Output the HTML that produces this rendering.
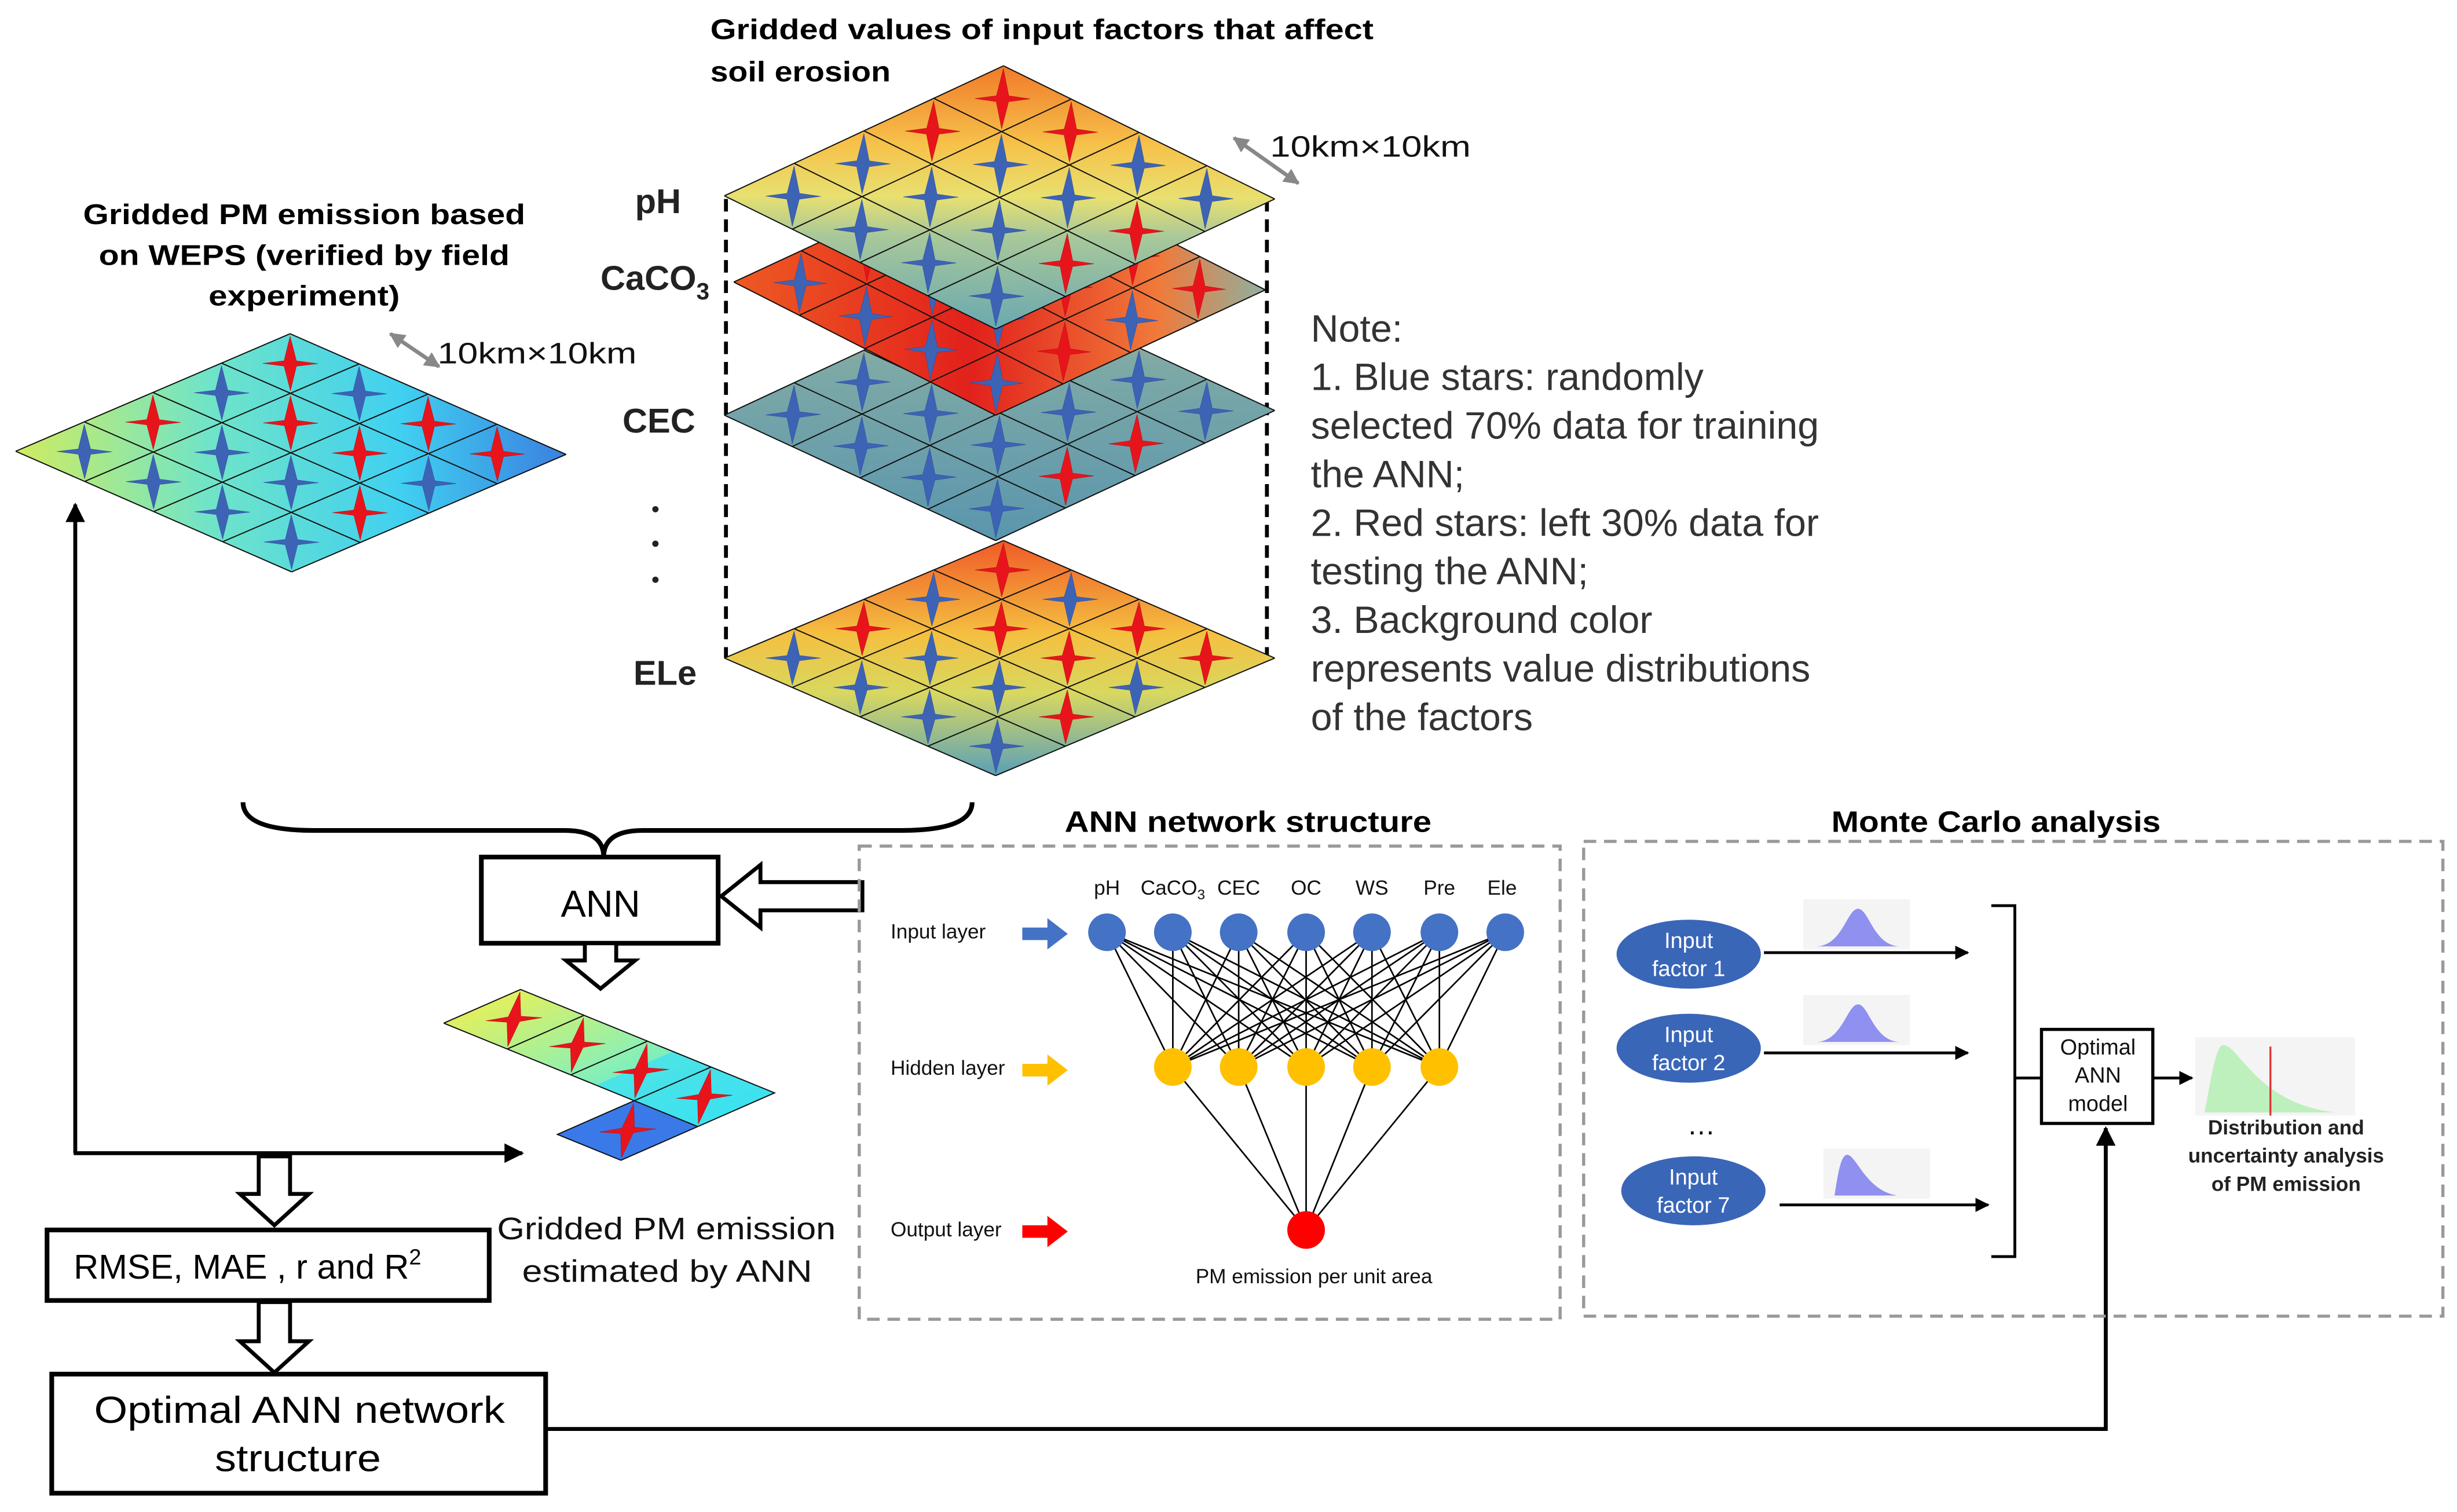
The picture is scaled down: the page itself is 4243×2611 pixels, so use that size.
<!DOCTYPE html>
<html><head><meta charset="utf-8"><style>html,body{margin:0;padding:0;background:#fff}svg{display:block}</style></head><body>
<svg xmlns="http://www.w3.org/2000/svg" width="4243" height="2611" viewBox="0 0 1567 965" preserveAspectRatio="none" font-family="Liberation Sans, sans-serif">
<defs>
<marker id="ah" viewBox="0 0 10 10" refX="9" refY="5" markerWidth="5" markerHeight="5" orient="auto"><path d="M0,0L10,5L0,10z" fill="#000"/></marker>
<marker id="ahg" viewBox="0 0 10 10" refX="9" refY="5" markerWidth="4" markerHeight="4" orient="auto-start-reverse"><path d="M0,0L10,5L0,10z" fill="#888"/></marker>
<polygon id="sb" points="0.96,0.04 0.59,0.5 0.7,0.7 0.5,0.59 0.04,0.96 0.41,0.5 0.3,0.3 0.5,0.41" fill="#3d63b5" stroke="#2a4590" stroke-width="0.5" vector-effect="non-scaling-stroke"/>
<polygon id="sr" points="0.96,0.04 0.59,0.5 0.7,0.7 0.5,0.59 0.04,0.96 0.41,0.5 0.3,0.3 0.5,0.41" fill="#e8141c" stroke="#a00a0a" stroke-width="0.5" vector-effect="non-scaling-stroke"/>
<path id="gl" d="M0,0H4M0,1H4M0,2H4M0,3H4M0,4H4M0,0V4M1,0V4M2,0V4M3,0V4M4,0V4" fill="none" stroke="#111" stroke-width="2" vector-effect="non-scaling-stroke"/>
<g id="p1">
<use href="#sb" x="0" y="0"/><use href="#sb" x="0" y="1"/><use href="#sb" x="0" y="2"/><use href="#sb" x="0" y="3"/>
<use href="#sb" x="1" y="0"/><use href="#sb" x="1" y="1"/><use href="#sb" x="1" y="2"/><use href="#sr" x="1" y="3"/>
<use href="#sr" x="2" y="0"/><use href="#sb" x="2" y="1"/><use href="#sb" x="2" y="2"/><use href="#sr" x="2" y="3"/>
<use href="#sr" x="3" y="0"/><use href="#sr" x="3" y="1"/><use href="#sb" x="3" y="2"/><use href="#sb" x="3" y="3"/>
</g>
<g id="p2">
<use href="#sb" x="0" y="0"/><use href="#sb" x="0" y="1"/><use href="#sb" x="0" y="2"/><use href="#sb" x="0" y="3"/>
<use href="#sr" x="1" y="0"/><use href="#sb" x="1" y="1"/><use href="#sb" x="1" y="2"/><use href="#sr" x="1" y="3"/>
<use href="#sb" x="2" y="0"/><use href="#sr" x="2" y="1"/><use href="#sr" x="2" y="2"/><use href="#sb" x="2" y="3"/>
<use href="#sr" x="3" y="0"/><use href="#sb" x="3" y="1"/><use href="#sr" x="3" y="2"/><use href="#sr" x="3" y="3"/>
</g>
<linearGradient id="gph" x1="1" y1="0" x2="0" y2="1"><stop offset="0" stop-color="#f07a2a"/><stop offset="0.3" stop-color="#f6c24a"/><stop offset="0.5" stop-color="#e8e070"/><stop offset="0.65" stop-color="#a8c89a"/><stop offset="1" stop-color="#6aa8b0"/></linearGradient>
<linearGradient id="gca" x1="0" y1="0" x2="1" y2="1"><stop offset="0" stop-color="#ee5a24"/><stop offset="0.45" stop-color="#e2211c"/><stop offset="0.8" stop-color="#f07a3a"/><stop offset="1" stop-color="#8fb0a0"/></linearGradient>
<linearGradient id="gce" x1="1" y1="0" x2="0" y2="1"><stop offset="0" stop-color="#e8b050"/><stop offset="0.3" stop-color="#7ea9a6"/><stop offset="1" stop-color="#5a96ae"/></linearGradient>
<linearGradient id="gel" x1="1" y1="0" x2="0" y2="1"><stop offset="0" stop-color="#f05a28"/><stop offset="0.4" stop-color="#f4c040"/><stop offset="0.65" stop-color="#d8d860"/><stop offset="1" stop-color="#5aa0b8"/></linearGradient>
<linearGradient id="gle" x1="0" y1="0" x2="1" y2="1"><stop offset="0" stop-color="#d0ec60"/><stop offset="0.35" stop-color="#70e4c8"/><stop offset="0.7" stop-color="#40d0f0"/><stop offset="1" stop-color="#3a80e0"/></linearGradient>
<linearGradient id="gsm" x1="0" y1="0" x2="0" y2="1"><stop offset="0" stop-color="#e0f060"/><stop offset="0.5" stop-color="#90f0b0"/><stop offset="1" stop-color="#30e8f0"/></linearGradient>
</defs>

<text x="453" y="25" font-size="18" font-weight="bold" textLength="423" lengthAdjust="spacingAndGlyphs">Gridded values of input factors that affect</text>
<text x="453" y="52" font-size="18" font-weight="bold" textLength="115" lengthAdjust="spacingAndGlyphs">soil erosion</text>
<text x="53" y="143" font-size="18" font-weight="bold" textLength="282" lengthAdjust="spacingAndGlyphs">Gridded PM emission based</text>
<text x="63" y="169" font-size="18" font-weight="bold" textLength="262" lengthAdjust="spacingAndGlyphs">on WEPS (verified by field</text>
<text x="133" y="195" font-size="18" font-weight="bold" textLength="122" lengthAdjust="spacingAndGlyphs">experiment)</text>

<path d="M463,127V420M808,127V420" stroke="#000" stroke-width="2.5" stroke-dasharray="8,5"/>

<g transform="matrix(44.5,-18.75,43.25,18.75,462,420)"><rect x="0" y="0" width="4" height="4" fill="url(#gel)"/><use href="#gl"/><use href="#p2"/></g>
<g transform="matrix(44.5,-20.75,43.25,20,462,265)"><rect x="0" y="0" width="4" height="4" fill="url(#gce)"/><use href="#gl"/><use href="#p1"/></g>
<g transform="matrix(43,-20,41.75,21.25,468,180)"><rect x="0" y="0" width="4" height="4" fill="url(#gca)"/><use href="#gl"/><use href="#p2"/></g>
<g transform="matrix(44.5,-20.75,43.25,21.25,462,125)"><rect x="0" y="0" width="4" height="4" fill="url(#gph)"/><use href="#gl"/><use href="#p1"/></g>

<g transform="matrix(43.75,-18.75,44,19.25,10,288)"><rect x="0" y="0" width="4" height="4" fill="url(#gle)"/><use href="#gl"/><use href="#p2"/></g>

<g font-size="22" font-weight="bold" fill="#222">
<text x="405" y="136">pH</text>
<text x="383" y="185">CaCO<tspan font-size="15" dy="6">3</tspan></text>
<text x="397" y="276">CEC</text>
<text x="404" y="437">ELe</text>
</g>
<circle cx="418" cy="325" r="2" fill="#222"/><circle cx="418" cy="347" r="2" fill="#222"/><circle cx="418" cy="370" r="2" fill="#222"/>

<line x1="787" y1="88" x2="828" y2="117" stroke="#888" stroke-width="2.5" marker-start="url(#ahg)" marker-end="url(#ahg)"/>
<text x="810" y="100" font-size="19" fill="#111" textLength="128" lengthAdjust="spacingAndGlyphs">10km×10km</text>
<line x1="249" y1="213" x2="280" y2="234" stroke="#888" stroke-width="2.5" marker-start="url(#ahg)" marker-end="url(#ahg)"/>
<text x="279" y="232" font-size="19" fill="#111" textLength="127" lengthAdjust="spacingAndGlyphs">10km×10km</text>

<g font-size="24.5" fill="#333">
<text x="836" y="218">Note:</text>
<text x="836" y="249">1. Blue stars: randomly</text>
<text x="836" y="280">selected 70% data for training</text>
<text x="836" y="311">the ANN;</text>
<text x="836" y="342">2. Red stars: left 30% data for</text>
<text x="836" y="373">testing the ANN;</text>
<text x="836" y="404">3. Background color</text>
<text x="836" y="435">represents  value distributions</text>
<text x="836" y="466">of the factors</text>
</g>

<path d="M155,512 Q155,530 200,530 L360,530 Q385,530 385,547 Q385,530 410,530 L575,530 Q620,530 620,512" fill="none" stroke="#000" stroke-width="3"/>

<rect x="307" y="547" width="151" height="55" fill="#fff" stroke="#000" stroke-width="3"/>
<text x="383" y="585" font-size="24" text-anchor="middle">ANN</text>
<polygon points="550,563 485,563 485,552 460,572 485,592 485,581 550,581" fill="#fff" stroke="#000" stroke-width="2.5"/>
<polygon points="373,602 393,602 393,613 405,613 383,631 361,613 373,613" fill="#fff" stroke="#000" stroke-width="2.5"/>

<g transform="matrix(49,-21.5,40.5,16.5,283,653)" >
<rect x="0" y="0" width="1" height="4" fill="url(#gsm)"/>
<rect x="0" y="2.4" width="1" height="1.6" fill="#40e0f0" opacity="0.8"/>
<rect x="-1" y="3" width="1" height="1" fill="#3a7ae8"/>
<path d="M0,0H1V4H-1V3H1M0,0V4M0,1H1M0,2H1" fill="none" stroke="#111" stroke-width="2" vector-effect="non-scaling-stroke"/>
<use href="#sr" x="0" y="0"/><use href="#sr" x="0" y="1"/><use href="#sr" x="0" y="2"/><use href="#sr" x="0" y="3"/><use href="#sr" x="-1" y="3"/>
</g>
<text x="317" y="791" font-size="20" fill="#111" textLength="216" lengthAdjust="spacingAndGlyphs">Gridded PM emission</text>
<text x="333" y="818" font-size="20" fill="#111" textLength="185" lengthAdjust="spacingAndGlyphs">estimated by ANN</text>

<line x1="48" y1="736" x2="48" y2="322" stroke="#000" stroke-width="2.5" marker-end="url(#ah)"/>
<line x1="47" y1="736" x2="333" y2="736" stroke="#000" stroke-width="2.5" marker-end="url(#ah)"/>
<polygon points="165,738 185,738 185,762 197,762 175,782 153,762 165,762" fill="#fff" stroke="#000" stroke-width="2.5"/>
<rect x="30" y="785" width="282" height="45" fill="#fff" stroke="#000" stroke-width="3"/>
<text x="47" y="816" font-size="22">RMSE, MAE , r and R<tspan font-size="14" dy="-9">2</tspan></text>
<polygon points="165,831 185,831 185,856 197,856 175,876 153,856 165,856" fill="#fff" stroke="#000" stroke-width="2.5"/>
<rect x="33" y="877" width="315" height="76" fill="#fff" stroke="#000" stroke-width="3"/>
<text x="60" y="908" font-size="24" textLength="262" lengthAdjust="spacingAndGlyphs">Optimal ANN network</text>
<text x="137" y="939" font-size="24" textLength="106" lengthAdjust="spacingAndGlyphs">structure</text>
<path d="M348,912 H1343 V720" fill="none" stroke="#000" stroke-width="2.5" marker-end="url(#ah)"/>

<text x="679" y="531" font-size="19" font-weight="bold" textLength="234" lengthAdjust="spacingAndGlyphs">ANN network structure</text>
<rect x="548" y="540" width="447" height="302" fill="none" stroke="#999" stroke-width="2" stroke-dasharray="8,5"/>
<g stroke="#000" stroke-width="1">
<path d="M706,595L748,681M706,595L790,681M706,595L833,681M706,595L875,681M706,595L918,681
M748,595L748,681M748,595L790,681M748,595L833,681M748,595L875,681M748,595L918,681
M790,595L748,681M790,595L790,681M790,595L833,681M790,595L875,681M790,595L918,681
M833,595L748,681M833,595L790,681M833,595L833,681M833,595L875,681M833,595L918,681
M875,595L748,681M875,595L790,681M875,595L833,681M875,595L875,681M875,595L918,681
M918,595L748,681M918,595L790,681M918,595L833,681M918,595L875,681M918,595L918,681
M960,595L748,681M960,595L790,681M960,595L833,681M960,595L875,681M960,595L918,681
M748,681L833,785M790,681L833,785M833,681L833,785M875,681L833,785M918,681L833,785"/>
</g>
<g fill="#4472c4"><circle cx="706" cy="595" r="12"/><circle cx="748" cy="595" r="12"/><circle cx="790" cy="595" r="12"/><circle cx="833" cy="595" r="12"/><circle cx="875" cy="595" r="12"/><circle cx="918" cy="595" r="12"/><circle cx="960" cy="595" r="12"/></g>
<g fill="#ffc000"><circle cx="748" cy="681" r="12"/><circle cx="790" cy="681" r="12"/><circle cx="833" cy="681" r="12"/><circle cx="875" cy="681" r="12"/><circle cx="918" cy="681" r="12"/></g>
<circle cx="833" cy="785" r="12" fill="#ff0000"/>
<g font-size="13" text-anchor="middle" fill="#111">
<text x="706" y="571">pH</text><text x="748" y="571">CaCO<tspan font-size="9" dy="3">3</tspan></text><text x="790" y="571">CEC</text><text x="833" y="571">OC</text><text x="875" y="571">WS</text><text x="918" y="571">Pre</text><text x="958" y="571">Ele</text>
<text x="838" y="819">PM emission per unit area</text>
</g>
<g font-size="13" fill="#111">
<text x="568" y="599">Input layer</text><text x="568" y="686">Hidden layer</text><text x="568" y="789">Output layer</text>
</g>
<polygon points="652,592 668,592 668,586 681,596 668,606 668,600 652,600" fill="#4472c4"/>
<polygon points="652,679 668,679 668,673 681,683 668,693 668,687 652,687" fill="#ffc000"/>
<polygon points="652,782 668,782 668,776 681,786 668,796 668,790 652,790" fill="#ff0000"/>

<text x="1168" y="531" font-size="19" font-weight="bold" textLength="210" lengthAdjust="spacingAndGlyphs">Monte Carlo analysis</text>
<rect x="1010" y="537" width="548" height="303" fill="none" stroke="#999" stroke-width="2" stroke-dasharray="8,5"/>
<g fill="#3a66b8"><ellipse cx="1077" cy="609" rx="46" ry="22"/><ellipse cx="1077" cy="669" rx="46" ry="22"/><ellipse cx="1080" cy="760" rx="46" ry="22"/></g>
<g font-size="14" fill="#fff" text-anchor="middle">
<text x="1077" y="605">Input</text><text x="1077" y="623">factor 1</text>
<text x="1077" y="665">Input</text><text x="1077" y="683">factor 2</text>
<text x="1080" y="756">Input</text><text x="1080" y="774">factor 7</text>
</g>
<text x="1085" y="724" font-size="18" text-anchor="middle">…</text>
<g>
<rect x="1150" y="574" width="68" height="32" fill="#f4f4f4"/><path d="M1158,604 C1175,604 1178,580 1185,580 C1192,580 1195,604 1212,604Z" fill="#9090f0"/>
<rect x="1150" y="635" width="68" height="32" fill="#f4f4f4"/><path d="M1158,665 C1175,665 1178,641 1185,641 C1192,641 1195,665 1212,665Z" fill="#9090f0"/>
<rect x="1163" y="733" width="68" height="32" fill="#f4f4f4"/><path d="M1170,763 C1172,750 1174,737 1178,737 C1184,737 1190,760 1210,763Z" fill="#9090f0"/>
</g>
<g stroke="#000" stroke-width="1.8" fill="none">
<line x1="1125" y1="608" x2="1255" y2="608" marker-end="url(#ah)"/>
<line x1="1125" y1="672" x2="1255" y2="672" marker-end="url(#ah)"/>
<line x1="1135" y1="769" x2="1268" y2="769" marker-end="url(#ah)"/>
<path d="M1270,578 H1285 V802 H1270 M1285,688 H1302"/>
<line x1="1373" y1="688" x2="1398" y2="688" marker-end="url(#ah)"/>
</g>
<rect x="1302" y="657" width="71" height="60" fill="#fff" stroke="#000" stroke-width="2"/>
<g font-size="14" text-anchor="middle" fill="#111"><text x="1338" y="673">Optimal</text><text x="1338" y="691">ANN</text><text x="1338" y="709">model</text></g>
<rect x="1400" y="662" width="102" height="50" fill="#f4f4f4"/>
<path d="M1406,710 C1410,690 1413,667 1418,667 C1428,667 1440,705 1490,710Z" fill="#bdf0bd"/>
<line x1="1448" y1="668" x2="1448" y2="712" stroke="#e03030" stroke-width="1.2"/>
<g font-size="13" font-weight="bold" text-anchor="middle" fill="#222"><text x="1458" y="724">Distribution and</text><text x="1458" y="742">uncertainty analysis</text><text x="1458" y="760">of PM emission</text></g>
</svg>
</body></html>
